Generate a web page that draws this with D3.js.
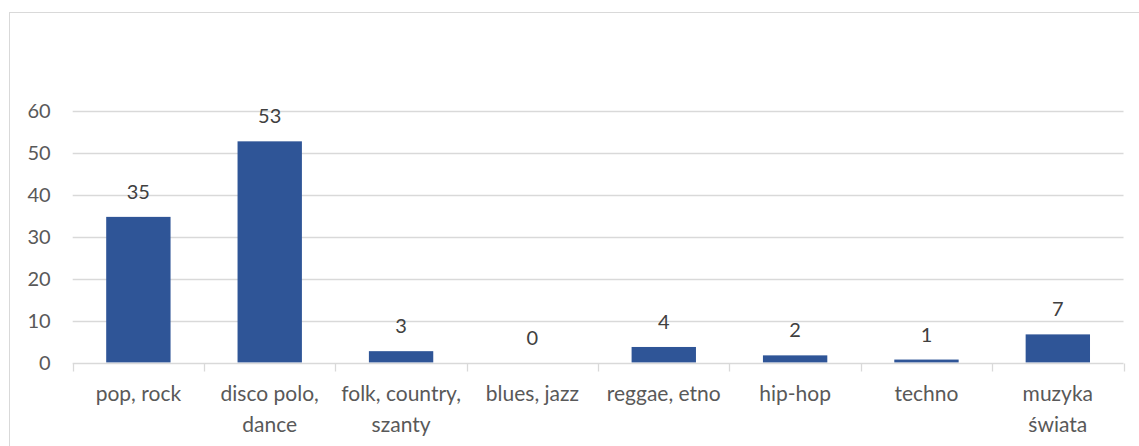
<!DOCTYPE html>
<html>
<head>
<meta charset="utf-8">
<script src="https://cdn.jsdelivr.net/npm/d3@7"></script>
<style>
  html, body { margin: 0; padding: 0; background: #fff; }
  svg { display: block; }
</style>
</head>
<body>
<div id="chart"></div>
<script>
// data
const categories = ["pop, rock", "disco polo, dance", "folk, country, szanty", "blues, jazz",
                    "reggae, etno", "hip-hop", "techno", "muzyka świata"];
// two-line axis labels, as wrapped in the picture
const categoryLines = [["pop, rock"], ["disco polo,", "dance"], ["folk, country,", "szanty"],
                       ["blues, jazz"], ["reggae, etno"], ["hip-hop"], ["techno"], ["muzyka", "świata"]];
const values = [34.7, 52.7, 2.7, 0, 3.7, 1.7, 0.7, 6.7];
const yTicks = [0, 10, 20, 30, 40, 50, 60];

const width = 1139, height = 446;
const margin = { left: 72.7, right: 1139 - 1123.5, top: 110.7, bottom: 446 - 362.5 };

const svg = d3.select("#chart").append("svg")
  .attr("width", width)
  .attr("height", height);

const fontFamily = "Lato, 'Open Sans', sans-serif";

// outer chart border
svg.append("rect")
  .attr("x", 9.5).attr("y", 12.5)
  .attr("width", width + 10).attr("height", height + 10)
  .attr("fill", "none")
  .attr("stroke", "#d9d9d9")
  .attr("stroke-width", 1);

const x = d3.scaleBand()
  .domain(categories)
  .range([margin.left, width - margin.right])
  .paddingInner(0.51)
  .paddingOuter(0.255);

const xBand = d3.scaleBand()
  .domain(categories)
  .range([margin.left, width - margin.right]);

const y = d3.scaleLinear()
  .domain([0, 60])
  .range([height - margin.bottom, margin.top]);

// gridlines
svg.append("g")
  .selectAll("line")
  .data(yTicks.filter(d => d > 0))
  .enter().append("line")
  .attr("x1", margin.left)
  .attr("x2", width - margin.right)
  .attr("y1", d => Math.round(y(d)) + 0.5)
  .attr("y2", d => Math.round(y(d)) + 0.5)
  .attr("stroke", "#d9d9d9")
  .attr("stroke-width", 1.3);

// y axis labels
const yAxis = svg.append("g")
  .attr("transform", `translate(${margin.left - 22},0)`)
  .call(d3.axisLeft(y).tickValues(yTicks).tickSize(0).tickPadding(0));
yAxis.select(".domain").remove();
yAxis.selectAll("text")
  .attr("fill", "#595959")
  .attr("font-family", fontFamily)
  .attr("font-size", 20)
  .attr("dy", "0.36em");

// bars
svg.append("g")
  .selectAll("rect")
  .data(values)
  .enter().append("rect")
  .attr("x", (d, i) => x(categories[i]))
  .attr("width", x.bandwidth())
  .attr("y", d => y(d))
  .attr("height", d => y(0) - y(d))
  .attr("fill", "#2f5597");

// data labels
svg.append("g")
  .selectAll("text")
  .data(values)
  .enter().append("text")
  .attr("x", (d, i) => x(categories[i]) + x.bandwidth() / 2)
  .attr("y", d => y(d) - 18)
  .attr("text-anchor", "middle")
  .attr("fill", "#404040")
  .attr("font-family", fontFamily)
  .attr("font-size", 20)
  .text(d => d3.format(".0f")(d));

// x axis line and tick marks at category boundaries
const xAxisG = svg.append("g")
  .attr("transform", `translate(0,${Math.round(y(0)) + 0.5})`);
xAxisG.append("line")
  .attr("x1", margin.left).attr("x2", width - margin.right)
  .attr("stroke", "#d9d9d9").attr("stroke-width", 1.3);
xAxisG.selectAll(".tick")
  .data(categories.map(c => xBand(c)).concat([width - margin.right]))
  .enter().append("line")
  .attr("x1", d => Math.round(d) + 0.5).attr("x2", d => Math.round(d) + 0.5)
  .attr("y1", 0).attr("y2", 8)
  .attr("stroke", "#d9d9d9").attr("stroke-width", 1.3);

// category labels
const catLabels = svg.append("g")
  .selectAll("text")
  .data(categoryLines)
  .enter().append("text")
  .attr("text-anchor", "middle")
  .attr("fill", "#595959")
  .attr("font-family", fontFamily)
  .attr("font-size", 21)
  .attr("transform", (d, i) => `translate(${xBand(categories[i]) + xBand.bandwidth() / 2},${y(0) + 38})`);

catLabels.selectAll("tspan")
  .data(d => d)
  .enter().append("tspan")
  .attr("x", 0)
  .attr("y", (d, i) => i * 31)
  .text(d => d);
</script>
</body>
</html>
